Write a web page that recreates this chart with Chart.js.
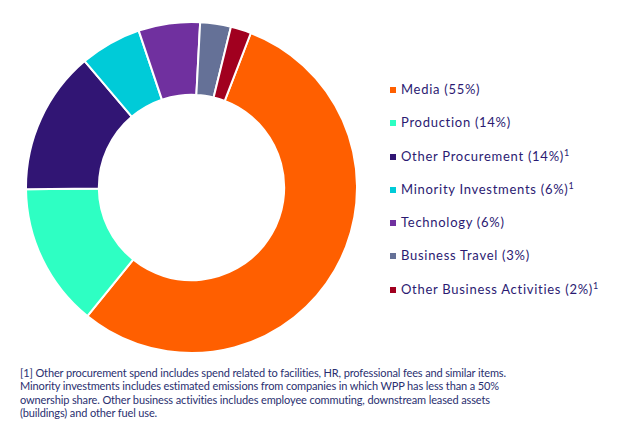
<!DOCTYPE html>
<html>
<head>
<meta charset="utf-8">
<script src="https://cdn.jsdelivr.net/npm/chart.js@4.4.1/dist/chart.umd.min.js"></script>
<style>
    body { margin: 0; background: #fff; width: 619px; height: 438px; position: relative; overflow: hidden; }
    #chartBox { position: absolute; left: 25px; top: 21px; width: 333px; height: 333px; }
    #legend { position: absolute; left: 390px; top: 80px; margin: 0; padding: 0; list-style: none;
        font-family: 'Lato', sans-serif; font-size: 13px; color: #2b1a72; letter-spacing: 0.72px; }
    #legend li { height: 33.3px; line-height: 18px; white-space: nowrap; }
    #legend .box { display: inline-block; width: 6px; height: 6px; margin-right: 5px; vertical-align: 1px; }
    #legend sup { font-size: 9px; vertical-align: 5px; line-height: 0; letter-spacing: 0; }
    #note { position: absolute; left: 20px; top: 366px; margin: 0; font-family: 'Lato', sans-serif;
        font-size: 11px; line-height: 13.4px; color: #2a2f70; letter-spacing: -0.13px; }
</style>
</head>
<body>
<div id="chartBox"><canvas id="spendChart"></canvas></div>
<ul id="legend"></ul>
<p id="note">[1] Other procurement spend includes spend related to facilities, HR, professional fees and similar items.<br>Minority investments includes estimated emissions from companies in which WPP has less than a 50%<br>ownership share. Other business activities includes employee commuting, downstream leased assets<br>(buildings) and other fuel use.</p>
<script>
    const categories = ['Media', 'Production', 'Other Procurement', 'Minority Investments', 'Technology', 'Business Travel', 'Other Business Activities'];
    const shares = [55, 14, 14, 6, 6, 3, 2];
    const footnoted = [false, false, true, true, false, false, true];
    const colors = ['#ff5f00', '#2effc3', '#311574', '#00cbd8', '#70309f', '#657197', '#a1001f'];

    // Legend with footnote markers
    const legend = document.getElementById('legend');
    categories.forEach((name, i) => {
        const li = document.createElement('li');
        const box = document.createElement('span');
        box.className = 'box';
        box.style.background = colors[i];
        li.appendChild(box);
        li.appendChild(document.createTextNode(name + ' (' + shares[i] + '%)'));
        if (footnoted[i]) {
            const sup = document.createElement('sup');
            sup.textContent = '1';
            li.appendChild(sup);
        }
        legend.appendChild(li);
    });

    new Chart(document.getElementById('spendChart'), {
        type: 'doughnut',
        data: {
            labels: categories,
            datasets: [{
                data: shares,
                backgroundColor: colors,
                borderColor: '#fff',
                borderWidth: 2
            }]
        },
        options: {
            responsive: true,
            maintainAspectRatio: false,
            animation: false,
            rotation: 21,
            cutout: '56%',
            plugins: {
                legend: { display: false },
                tooltip: { enabled: false }
            }
        }
    });
</script>
</body>
</html>
